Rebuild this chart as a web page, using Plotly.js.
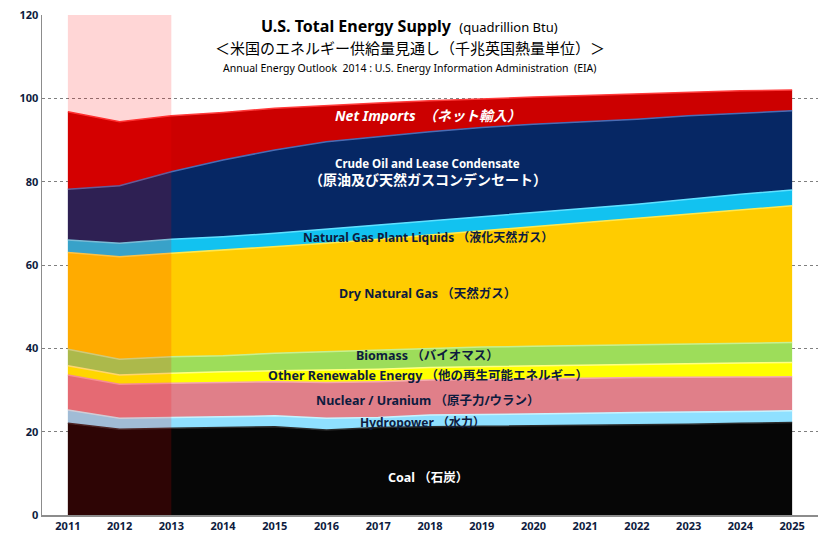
<!DOCTYPE html>
<html>
<head>
<meta charset="utf-8">
<script src="https://cdn.plot.ly/plotly-3.0.1.min.js"></script>
<style>html,body{margin:0;padding:0;background:#fff;}#chart{width:832px;height:546px;}</style>
</head>
<body>
<div id="chart"></div>
<script>
// Years
var years = [2011,2012,2013,2014,2015,2016,2017,2018,2019,2020,2021,2022,2023,2024,2025];
// Quadrillion Btu per source (stacked bottom to top)
var coal        = [22.0,20.6,20.8,21.0,21.2,20.4,21.0,21.2,21.3,21.4,21.5,21.6,21.8,22.0,22.2];
var hydro       = [3.2,2.6,2.6,2.6,2.6,2.8,2.4,2.8,2.8,2.9,2.9,3.0,2.9,2.9,2.8];
var nuclear     = [8.4,8.2,8.2,8.2,8.2,8.6,8.6,8.4,8.4,8.3,8.4,8.4,8.3,8.2,8.2];
var otherRenew  = [2.2,2.2,2.4,2.6,2.6,3.0,3.0,3.0,3.1,3.2,3.2,3.2,3.3,3.4,3.4];
var biomass     = [4.0,3.8,4.0,3.8,4.2,4.4,4.6,4.6,4.7,4.7,4.7,4.7,4.7,4.7,4.8];
var dryGas      = [23.2,24.6,24.8,25.4,25.6,26.0,26.6,27.2,27.9,28.7,29.5,30.3,31.2,32.0,32.8];
var ngpl        = [3.0,3.2,3.4,3.2,3.2,3.4,3.4,3.4,3.4,3.4,3.4,3.4,3.6,3.8,3.8];
var crudeOil    = [12.2,13.8,16.2,18.4,20.0,21.0,21.2,21.4,21.4,21.2,20.8,20.4,20.0,19.4,19.0];
var netImports  = [18.6,15.4,13.4,11.4,10.0,8.7,8.1,7.4,6.9,6.5,6.3,6.1,5.7,5.4,5.0];

var seriesNames = ["Coal","Hydropower","Nuclear / Uranium","Other Renewable Energy","Biomass","Dry Natural Gas","Natural Gas Plant Liquids","Crude Oil and Lease Condensate","Net Imports"];
var seriesData = [coal,hydro,nuclear,otherRenew,biomass,dryGas,ngpl,crudeOil,netImports];
var fills  = ["#060606","#8fe0ff","#e07f89","#ffff00","#9ddd5a","#ffcc00","#12c2f0","#062764","#cc0000"];
var lines  = ["#2a2a2a","#c8f4ff","#f6a8b0","#ffff80","#c8f090","#ffe850","#60e0ff","#4a6cb4","#ff3a3a"];

var traces = seriesData.map(function(d,i){
  return {
    x: years, y: d, name: seriesNames[i], type: "scatter", mode: "lines",
    stackgroup: "one", fillcolor: fills[i],
    line: {color: lines[i], width: 1.5},
    hoverinfo: "x+y+name"
  };
});

var darkTxt = "#0d1b3e";
var jp = "Noto Sans, Noto Sans CJK JP, sans-serif";
function lab(text, ypx, size, color, extra){
  var a = {text: text, xref: "paper", yref: "paper", x: 0.497, y: (515 - ypx)/500,
    showarrow: false, xanchor: "center", yanchor: "middle",
    font: {family: jp, size: size, color: color, weight: "bold"}};
  if (extra) for (var k in extra) a[k] = extra[k];
  return a;
}

var annotations = [
  {text: "<b>U.S. Total Energy Supply</b>  <span style='font-size:13px'>(quadrillion Btu)</span>", xref: "paper", yref: "paper",
   x: 0.474, y: (515-26)/500, showarrow: false, xanchor: "center", yanchor: "middle",
   font: {family: jp, size: 16, color: "#000"}},
  {text: "＜米国のエネルギー供給量見通し（千兆英国熱量単位）＞", xref: "paper", yref: "paper",
   x: 0.474, y: (515-48)/500, showarrow: false, xanchor: "center", yanchor: "middle",
   font: {family: "Noto Sans CJK JP, sans-serif", size: 15, color: "#000"}},
  {text: "Annual Energy Outlook  2014 : U.S. Energy Information Administration  (EIA)", xref: "paper", yref: "paper",
   x: 0.474, y: (515-68)/500, showarrow: false, xanchor: "center", yanchor: "middle",
   font: {family: jp, size: 10.5, color: "#000"}},
  lab("<i>Net Imports</i>  <i>（ネット輸入）</i>", 116, 14, "#ffffff"),
  lab("Crude Oil and Lease Condensate", 163, 11.5, "#ffffff"),
  lab("（原油及び天然ガスコンデンセート）", 180, 14, "#ffffff"),
  lab("Natural Gas Plant Liquids （液化天然ガス）", 238, 12, darkTxt),
  lab("Dry Natural Gas （天然ガス）", 293, 12.5, darkTxt),
  lab("Biomass （バイオマス）", 356, 12.5, darkTxt),
  lab("Other Renewable Energy （他の再生可能エネルギー）", 375, 12.5, darkTxt),
  lab("Nuclear / Uranium （原子力/ウラン）", 400, 12.5, darkTxt),
  lab("Hydropower （水力）", 422, 12, darkTxt, {x: 0.490}),
  lab("Coal （石炭）", 477, 12.5, "#ffffff")
];

var layout = {
  width: 832, height: 546,
  margin: {l: 42, r: 14, t: 15, b: 31},
  paper_bgcolor: "#ffffff", plot_bgcolor: "#ffffff",
  showlegend: false,
  font: {family: jp, color: darkTxt},
  xaxis: {
    range: [2010.5, 2025.5], tickmode: "array", tickvals: years, ticktext: years.map(String),
    showgrid: false, zeroline: false, showline: true, linecolor: "#8c8c8c", linewidth: 1.5,
    ticks: "", tickfont: {size: 11, color: darkTxt, weight: "bold", family: jp}
  },
  yaxis: {
    range: [0, 120], dtick: 20, showgrid: true, gridcolor: "#7f7f7f", griddash: "dot", gridwidth: 1,
    zeroline: false, showline: true, linecolor: "#8c8c8c", linewidth: 1.5, ticks: "",
    tickfont: {size: 11, color: darkTxt, weight: "bold", family: jp}
  },
  shapes: [
    {type: "rect", xref: "x", yref: "y", x0: 2011, x1: 2013, y0: 0, y1: 120,
     fillcolor: "rgba(255,0,0,0.16)", line: {width: 0}, layer: "above"}
  ],
  annotations: annotations
};

Plotly.newPlot("chart", traces, layout, {displayModeBar: false, staticPlot: true});
</script>
</body>
</html>
